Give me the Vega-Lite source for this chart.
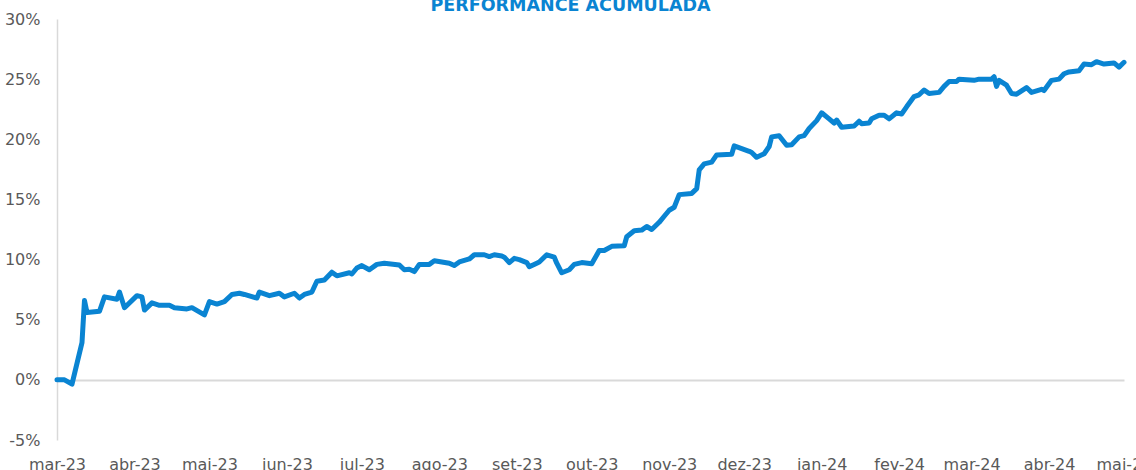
{
  "$schema": "https://vega.github.io/schema/vega-lite/v6.json",
  "width": 1067,
  "height": 421,
  "autosize": {"type": "none"},
  "padding": {"left": 57, "top": 19, "right": 12, "bottom": 30},
  "background": "white",
  "title": {"text": "PERFORMANCE ACUMULADA", "anchor": "middle", "frame": "group", "dx": -20, "offset": -17, "baseline": "alphabetic", "font": "DejaVu Sans", "fontSize": 17.5, "fontWeight": "bold", "color": "#0A84D2"},
  "config": {"view": {"stroke": null}, "axis": {"labelFont": "DejaVu Sans", "labelFontSize": 16, "labelColor": "#595959"}},
  "data": {"values": [
    {"data": "2023-03-01", "retorno": 0.0},
    {"data": "2023-03-04", "retorno": 0.0},
    {"data": "2023-03-07", "retorno": -0.36},
    {"data": "2023-03-11", "retorno": 3.1},
    {"data": "2023-03-12", "retorno": 6.6},
    {"data": "2023-03-13", "retorno": 5.6},
    {"data": "2023-03-18", "retorno": 5.7},
    {"data": "2023-03-20", "retorno": 6.9},
    {"data": "2023-03-25", "retorno": 6.7},
    {"data": "2023-03-26", "retorno": 7.3},
    {"data": "2023-03-28", "retorno": 6.0},
    {"data": "2023-04-02", "retorno": 7.0},
    {"data": "2023-04-04", "retorno": 6.9},
    {"data": "2023-04-05", "retorno": 5.8},
    {"data": "2023-04-08", "retorno": 6.4},
    {"data": "2023-04-11", "retorno": 6.2},
    {"data": "2023-04-15", "retorno": 6.2},
    {"data": "2023-04-17", "retorno": 6.0},
    {"data": "2023-04-22", "retorno": 5.9},
    {"data": "2023-04-24", "retorno": 6.0},
    {"data": "2023-04-29", "retorno": 5.4},
    {"data": "2023-05-01", "retorno": 6.5},
    {"data": "2023-05-04", "retorno": 6.3},
    {"data": "2023-05-07", "retorno": 6.5},
    {"data": "2023-05-10", "retorno": 7.1},
    {"data": "2023-05-13", "retorno": 7.2},
    {"data": "2023-05-15", "retorno": 7.1},
    {"data": "2023-05-20", "retorno": 6.8},
    {"data": "2023-05-21", "retorno": 7.3},
    {"data": "2023-05-25", "retorno": 7.0},
    {"data": "2023-05-29", "retorno": 7.2},
    {"data": "2023-05-31", "retorno": 6.9},
    {"data": "2023-06-04", "retorno": 7.2},
    {"data": "2023-06-06", "retorno": 6.8},
    {"data": "2023-06-08", "retorno": 7.1},
    {"data": "2023-06-11", "retorno": 7.3},
    {"data": "2023-06-13", "retorno": 8.2},
    {"data": "2023-06-16", "retorno": 8.3},
    {"data": "2023-06-19", "retorno": 8.95},
    {"data": "2023-06-21", "retorno": 8.65},
    {"data": "2023-06-26", "retorno": 8.9},
    {"data": "2023-06-27", "retorno": 8.8},
    {"data": "2023-06-29", "retorno": 9.3},
    {"data": "2023-07-01", "retorno": 9.5},
    {"data": "2023-07-04", "retorno": 9.15},
    {"data": "2023-07-07", "retorno": 9.6},
    {"data": "2023-07-10", "retorno": 9.7},
    {"data": "2023-07-16", "retorno": 9.55},
    {"data": "2023-07-18", "retorno": 9.15},
    {"data": "2023-07-20", "retorno": 9.2},
    {"data": "2023-07-22", "retorno": 9.0},
    {"data": "2023-07-24", "retorno": 9.6},
    {"data": "2023-07-28", "retorno": 9.6},
    {"data": "2023-07-30", "retorno": 9.9},
    {"data": "2023-08-05", "retorno": 9.7},
    {"data": "2023-08-07", "retorno": 9.5},
    {"data": "2023-08-09", "retorno": 9.8},
    {"data": "2023-08-13", "retorno": 10.05},
    {"data": "2023-08-15", "retorno": 10.4},
    {"data": "2023-08-19", "retorno": 10.4},
    {"data": "2023-08-21", "retorno": 10.25},
    {"data": "2023-08-23", "retorno": 10.4},
    {"data": "2023-08-26", "retorno": 10.3},
    {"data": "2023-08-27", "retorno": 10.2},
    {"data": "2023-08-29", "retorno": 9.75},
    {"data": "2023-08-31", "retorno": 10.1},
    {"data": "2023-09-02", "retorno": 10.0},
    {"data": "2023-09-05", "retorno": 9.75},
    {"data": "2023-09-06", "retorno": 9.4},
    {"data": "2023-09-09", "retorno": 9.7},
    {"data": "2023-09-10", "retorno": 9.8},
    {"data": "2023-09-13", "retorno": 10.4},
    {"data": "2023-09-16", "retorno": 10.2},
    {"data": "2023-09-17", "retorno": 9.7},
    {"data": "2023-09-19", "retorno": 8.9},
    {"data": "2023-09-22", "retorno": 9.15},
    {"data": "2023-09-24", "retorno": 9.6},
    {"data": "2023-09-27", "retorno": 9.75},
    {"data": "2023-10-01", "retorno": 9.65},
    {"data": "2023-10-04", "retorno": 10.75},
    {"data": "2023-10-06", "retorno": 10.75},
    {"data": "2023-10-09", "retorno": 11.1},
    {"data": "2023-10-14", "retorno": 11.15},
    {"data": "2023-10-15", "retorno": 11.9},
    {"data": "2023-10-18", "retorno": 12.4},
    {"data": "2023-10-21", "retorno": 12.45},
    {"data": "2023-10-23", "retorno": 12.75},
    {"data": "2023-10-25", "retorno": 12.5},
    {"data": "2023-10-28", "retorno": 13.1},
    {"data": "2023-10-30", "retorno": 13.6},
    {"data": "2023-11-01", "retorno": 14.1},
    {"data": "2023-11-03", "retorno": 14.35},
    {"data": "2023-11-05", "retorno": 15.4},
    {"data": "2023-11-10", "retorno": 15.5},
    {"data": "2023-11-12", "retorno": 15.9},
    {"data": "2023-11-13", "retorno": 17.45},
    {"data": "2023-11-15", "retorno": 17.95},
    {"data": "2023-11-18", "retorno": 18.1},
    {"data": "2023-11-20", "retorno": 18.7},
    {"data": "2023-11-26", "retorno": 18.75},
    {"data": "2023-11-27", "retorno": 19.45},
    {"data": "2023-12-03", "retorno": 19.0},
    {"data": "2023-12-04", "retorno": 18.9},
    {"data": "2023-12-06", "retorno": 18.5},
    {"data": "2023-12-09", "retorno": 18.8},
    {"data": "2023-12-11", "retorno": 19.4},
    {"data": "2023-12-12", "retorno": 20.2},
    {"data": "2023-12-15", "retorno": 20.3},
    {"data": "2023-12-18", "retorno": 19.5},
    {"data": "2023-12-20", "retorno": 19.55},
    {"data": "2023-12-23", "retorno": 20.2},
    {"data": "2023-12-25", "retorno": 20.3},
    {"data": "2023-12-27", "retorno": 20.9},
    {"data": "2023-12-30", "retorno": 21.55},
    {"data": "2024-01-01", "retorno": 22.2},
    {"data": "2024-01-04", "retorno": 21.7},
    {"data": "2024-01-06", "retorno": 21.35},
    {"data": "2024-01-07", "retorno": 21.6},
    {"data": "2024-01-09", "retorno": 21.0},
    {"data": "2024-01-14", "retorno": 21.1},
    {"data": "2024-01-16", "retorno": 21.5},
    {"data": "2024-01-17", "retorno": 21.3},
    {"data": "2024-01-20", "retorno": 21.35},
    {"data": "2024-01-21", "retorno": 21.7},
    {"data": "2024-01-24", "retorno": 22.0},
    {"data": "2024-01-26", "retorno": 22.0},
    {"data": "2024-01-28", "retorno": 21.7},
    {"data": "2024-01-31", "retorno": 22.2},
    {"data": "2024-02-02", "retorno": 22.1},
    {"data": "2024-02-04", "retorno": 22.7},
    {"data": "2024-02-07", "retorno": 23.55},
    {"data": "2024-02-09", "retorno": 23.7},
    {"data": "2024-02-11", "retorno": 24.1},
    {"data": "2024-02-13", "retorno": 23.8},
    {"data": "2024-02-17", "retorno": 23.9},
    {"data": "2024-02-19", "retorno": 24.4},
    {"data": "2024-02-21", "retorno": 24.8},
    {"data": "2024-02-24", "retorno": 24.8},
    {"data": "2024-02-25", "retorno": 25.0},
    {"data": "2024-03-02", "retorno": 24.9},
    {"data": "2024-03-04", "retorno": 25.0},
    {"data": "2024-03-09", "retorno": 25.0},
    {"data": "2024-03-10", "retorno": 25.2},
    {"data": "2024-03-11", "retorno": 24.4},
    {"data": "2024-03-12", "retorno": 24.9},
    {"data": "2024-03-15", "retorno": 24.5},
    {"data": "2024-03-17", "retorno": 23.8},
    {"data": "2024-03-19", "retorno": 23.75},
    {"data": "2024-03-23", "retorno": 24.3},
    {"data": "2024-03-25", "retorno": 23.9},
    {"data": "2024-03-29", "retorno": 24.15},
    {"data": "2024-03-30", "retorno": 24.05},
    {"data": "2024-04-02", "retorno": 24.9},
    {"data": "2024-04-05", "retorno": 25.0},
    {"data": "2024-04-07", "retorno": 25.45},
    {"data": "2024-04-09", "retorno": 25.6},
    {"data": "2024-04-13", "retorno": 25.7},
    {"data": "2024-04-15", "retorno": 26.25},
    {"data": "2024-04-18", "retorno": 26.2},
    {"data": "2024-04-20", "retorno": 26.45},
    {"data": "2024-04-23", "retorno": 26.25},
    {"data": "2024-04-27", "retorno": 26.35},
    {"data": "2024-04-29", "retorno": 26.0},
    {"data": "2024-05-01", "retorno": 26.4}
  ]},
  "mark": {"type": "line", "color": "#0A84D2", "strokeWidth": 5, "strokeJoin": "round", "strokeCap": "round"},
  "encoding": {
    "x": {
      "field": "data",
      "type": "temporal",
      "scale": {"type": "utc", "domain": [{"year": 2023, "month": 3, "date": 1, "utc": true}, {"year": 2024, "month": 5, "date": 1, "utc": true}], "nice": false},
      "axis": {
        "title": null,
        "domain": false,
        "ticks": false,
        "grid": false,
        "tickCount": {"interval": "month", "step": 1},
        "labelExpr": "['jan','fev','mar','abr','mai','jun','jul','ago','set','out','nov','dez'][utcmonth(datum.value)] + '-' + utcFormat(datum.value, '%y')",
        "labelBaseline": "alphabetic",
        "labelPadding": 29,
        "labelAlign": "center",
        "labelOverlap": false,
        "labelFlush": false
      }
    },
    "y": {
      "field": "retorno",
      "type": "quantitative",
      "scale": {"domain": [-5, 30], "nice": false, "zero": false},
      "axis": {
        "title": null,
        "values": [-5, 0, 5, 10, 15, 20, 25, 30],
        "labelExpr": "datum.value + '%'",
        "ticks": false,
        "domainColor": "#D9D9D9",
        "domainWidth": 1.5,
        "labelPadding": 17,
        "grid": true,
        "gridColor": "#D9D9D9",
        "gridWidth": 2,
        "gridOpacity": {"condition": {"test": "datum.value === 0", "value": 1}, "value": 0}
      }
    }
  }
}
